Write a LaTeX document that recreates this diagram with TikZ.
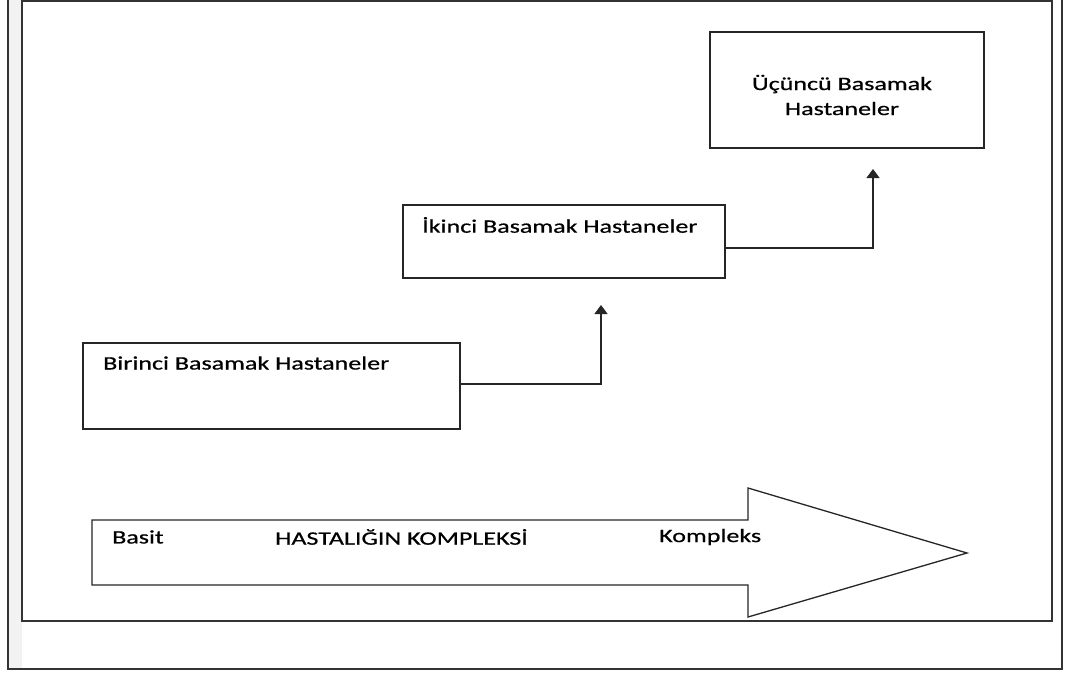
\documentclass[tikz,border=0pt]{standalone}
\usepackage{fontspec}
\setmainfont{Carlito}[FakeStretch=1.37,FakeBold=0.6]
\usetikzlibrary{arrows.meta}
\begin{document}
\begin{tikzpicture}[x=1pt,y=-1pt,
  frame/.style={draw=black!80, line width=1.5pt},
  hbox/.style={draw=black!85, line width=1.3pt, inner sep=0pt},
  lbl/.style={font=\fontsize{19}{25}\selectfont, text=black, inner sep=0pt},
  conn/.style={draw=black!85, line width=1.3pt, -{Triangle[width=13pt,length=9pt]}},
  bigarrow/.style={draw=black!85, line width=1.3pt, fill=white, line join=miter}]
\useasboundingbox (0,0) rectangle (1065,675);
\fill[white] (0,0) rectangle (1065,675);
% frames
\fill[black!5] (8,0) rectangle (22,669);
\draw[frame] (8,0) -- (8,669) -- (1062,669) -- (1062,0);
\draw[frame, fill=white] (22,1) rectangle (1052,621);
% boxes
\node[hbox, minimum width=274pt, minimum height=116pt] (b3) at (847,90) {};
\node[hbox, minimum width=322pt, minimum height=73pt] (b2) at (564,241.5) {};
\node[hbox, minimum width=377pt, minimum height=86pt] (b1) at (271.5,386) {};
\node[lbl, align=center] (t3) at (842,95) {Üçüncü Basamak\\Hastaneler};
\node[lbl, anchor=west] (t2) at (422,225) {İkinci Basamak Hastaneler};
\node[lbl, anchor=west] (t1) at (103,363) {Birinci Basamak Hastaneler};
% connectors
\coordinate (c1) at (601,305);
\coordinate (c2) at (873,169);
\draw[conn] ([yshift=2pt]b1.east) -| (c1);
\draw[conn] ([yshift=-6.5pt]b2.east) -| (c2);
% big arrow
\coordinate (a1) at (92,520);
\coordinate (a2) at (748,520);
\coordinate (a3) at (748,488);
\coordinate (a4) at (967,553);
\coordinate (a5) at (748,617);
\coordinate (a6) at (748,585);
\coordinate (a7) at (92,585);
\draw[bigarrow] (a1) -- (a2) -- (a3) -- (a4) -- (a5) -- (a6) -- (a7) -- cycle;
\node[lbl, anchor=west] (basit) at (112,537) {Basit};
\node[lbl, anchor=west] (hk) at (275,537) {HASTALIĞIN KOMPLEKSİ};
\node[lbl, anchor=west] (komp) at (659,537) {Kompleks};
\end{tikzpicture}
\end{document}
